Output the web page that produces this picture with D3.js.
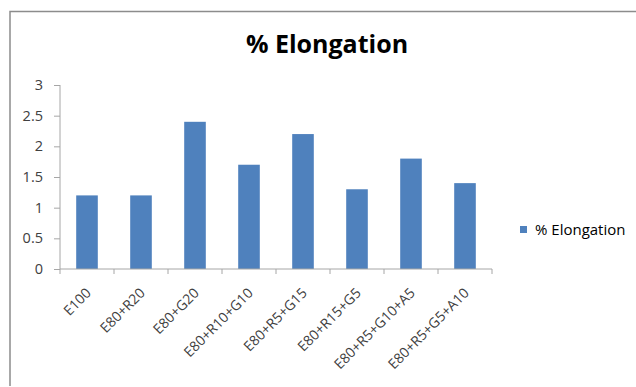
<!DOCTYPE html>
<html>
<head>
<meta charset="utf-8">
<script src="https://cdn.jsdelivr.net/npm/d3@7"></script>
<style>
  body { margin: 0; background: #fff; }
  text { font-family: "Open Sans", "Liberation Sans", sans-serif; }
</style>
</head>
<body>
<script>
// data
var categories = ["E100", "E80+R20", "E80+G20", "E80+R10+G10", "E80+R5+G15",
                  "E80+R15+G5", "E80+R5+G10+A5", "E80+R5+G5+A10"];
var elongation = [1.2, 1.2, 2.4, 1.7, 2.2, 1.3, 1.8, 1.4];
var yTicks = [0, 0.5, 1, 1.5, 2, 2.5, 3];
var seriesName = "% Elongation";

var W = 636, H = 387;
var plot = {left: 60, right: 492, top: 85, bottom: 269};

var svg = d3.select("body").append("svg")
    .attr("width", W)
    .attr("height", H);

// chart frame (only top and left edges are visible in the picture)
svg.append("path")
    .attr("d", "M10,386 L10,11.5 L636,11.5")
    .attr("fill", "none")
    .attr("stroke", "#8c8c8c")
    .attr("stroke-width", 1.5);

// title
svg.append("text")
    .attr("x", 327)
    .attr("y", 53)
    .attr("text-anchor", "middle")
    .attr("font-size", 25)
    .attr("font-weight", "bold")
    .attr("fill", "#000")
    .text(seriesName);

var x = d3.scaleBand()
    .domain(categories)
    .range([plot.left, plot.right])
    .paddingInner(0.6)
    .paddingOuter(0.3);

var y = d3.scaleLinear()
    .domain([0, 3])
    .range([plot.bottom, plot.top]);

// y axis
var yAxis = svg.append("g")
    .attr("transform", "translate(" + plot.left + ",0)")
    .call(d3.axisLeft(y).tickValues(yTicks).tickSize(6).tickPadding(11)
        .tickFormat(function(d) { return String(d); }));
yAxis.select(".domain").attr("stroke", "#a6a6a6").attr("d", "M0," + y(3) + "V" + y(0));
yAxis.selectAll(".tick line").attr("stroke", "#a6a6a6");
yAxis.selectAll(".tick text").attr("font-size", 14.5).attr("fill", "#404040")
    .attr("font-family", "'Open Sans', sans-serif");

// bars
svg.selectAll("rect.bar")
    .data(elongation)
    .enter().append("rect")
    .attr("class", "bar")
    .attr("x", function(d, i) { return x(categories[i]); })
    .attr("width", x.bandwidth())
    .attr("y", function(d) { return y(d); })
    .attr("height", function(d) { return y(0) - y(d); })
    .attr("fill", "#4f81bd");

// x axis with ticks at band boundaries
var xAxis = svg.append("g")
    .attr("transform", "translate(0," + plot.bottom + ")");
xAxis.append("line")
    .attr("x1", plot.left).attr("x2", plot.right)
    .attr("stroke", "#a6a6a6");
var step = x.step();
var bounds = d3.range(categories.length + 1).map(function(i) { return plot.left + i * step; });
xAxis.selectAll("line.tk")
    .data(bounds)
    .enter().append("line")
    .attr("class", "tk")
    .attr("x1", function(d) { return d; })
    .attr("x2", function(d) { return d; })
    .attr("y1", 0).attr("y2", 5)
    .attr("stroke", "#a6a6a6");
xAxis.selectAll("text")
    .data(categories)
    .enter().append("text")
    .attr("transform", function(d) {
        return "translate(" + (x(d) + x.bandwidth() / 2 - 2) + ",18) rotate(-45)";
    })
    .attr("text-anchor", "end")
    .attr("dy", "0.7em")
    .attr("font-size", 14)
    .attr("fill", "#404040")
    .text(function(d) { return d; });

// legend
var legend = svg.append("g").attr("transform", "translate(520,226)");
legend.append("rect")
    .attr("width", 7).attr("height", 7)
    .attr("fill", "#4f81bd");
legend.append("text")
    .attr("x", 15).attr("y", 4)
    .attr("dy", "0.35em")
    .attr("font-size", 15)
    .attr("fill", "#000")
    .text(seriesName);
</script>
</body>
</html>
